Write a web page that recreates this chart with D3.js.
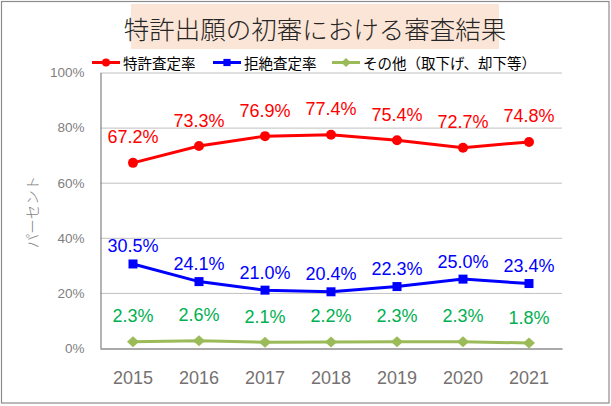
<!DOCTYPE html>
<html><head><meta charset="utf-8">
<script src="https://cdn.jsdelivr.net/npm/d3@7"></script>
<style>html,body{margin:0;padding:0;background:#fff;}svg{display:block;}</style>
</head><body>
<svg id="c" width="611" height="406"></svg>
<script>
const years = ["2015","2016","2017","2018","2019","2020","2021"];
const grantRate = [67.2, 73.3, 76.9, 77.4, 75.4, 72.7, 74.8];
const refusalRate = [30.5, 24.1, 21.0, 20.4, 22.3, 25.0, 23.4];
const otherRate = [2.3, 2.6, 2.1, 2.2, 2.3, 2.3, 1.8];
const yTicks = [0, 20, 40, 60, 80, 100];
const titleText = "特許出願の初審における審査結果";
const yLabel = "パーセント";
const seriesNames = ["特許査定率", "拒絶査定率", "その他（取下げ、却下等）"];

const svg = d3.select("#c");
const JP = "'Noto Sans CJK JP','Noto Sans',sans-serif";
const LAT = "'Liberation Sans',Arial,sans-serif";

// outer border
svg.append("rect").attr("x",1.5).attr("y",1.5).attr("width",607.5).attr("height",401.5)
  .attr("fill","#fff").attr("stroke","#8c8c8c").attr("stroke-width",1.2);

// title
svg.append("rect").attr("x",131).attr("y",4).attr("width",368).attr("height",45).attr("fill","#FBE5D6");
svg.append("text").attr("x",315).attr("y",27).attr("text-anchor","middle").attr("dominant-baseline","central")
  .attr("font-family",JP).attr("font-size",25.5).attr("font-weight",300).attr("fill","#262626").text(titleText);

const x = d3.scaleBand().domain(years).range([100,562]);
const cx = d => x(d) + x.bandwidth()/2;
const y = d3.scaleLinear().domain([0,100]).range([348,72.5]);

// gridlines
svg.append("g").selectAll("line").data(yTicks.filter(t=>t>0)).join("line")
  .attr("x1",100).attr("x2",562).attr("y1",d=>y(d)+0.5).attr("y2",d=>y(d)+0.5)
  .attr("stroke","#c0c0c0").attr("stroke-width",1);

// y axis
const yAxis = d3.axisLeft(y).tickValues(yTicks).tickFormat(d=>d+"%").tickSize(0).tickPadding(16);
const gy = svg.append("g").attr("transform","translate(100.5,0)").call(yAxis);
gy.select(".domain").attr("stroke","#8c8c8c").attr("stroke-width",1.3);
gy.selectAll("text").attr("font-family",LAT).attr("font-size",13.5).attr("fill","#7f7f7f");

// x axis
const xAxis = d3.axisBottom(x).tickSize(0).tickPadding(23);
const gx = svg.append("g").attr("transform","translate(0,348.5)").call(xAxis);
gx.select(".domain").attr("stroke","#8c8c8c").attr("stroke-width",1.3);
gx.selectAll("text").attr("font-family",LAT).attr("font-size",18).attr("fill","#767171");

// y label
svg.append("text").attr("transform","translate(31,212) rotate(-90)").attr("text-anchor","middle")
  .attr("dominant-baseline","central").attr("font-family",JP).attr("font-size",14.5).attr("font-weight",300).attr("fill","#7f7f7f").text(yLabel);

const series = [
  {name:seriesNames[0], vals:grantRate, color:"#ff0000", label:"#ff0000", marker:"circle", off:19.5},
  {name:seriesNames[1], vals:refusalRate, color:"#0000ff", label:"#0000ff", marker:"square", off:11.5},
  {name:seriesNames[2], vals:otherRate, color:"#9bbb59", label:"#00b050", marker:"diamond", off:19.5}
];

function marker(g, type, color, s) {
  if (type==="circle") g.append("circle").attr("r",5*s).attr("fill",color);
  else if (type==="square") g.append("rect").attr("x",-4.5*s).attr("y",-4.5*s).attr("width",9*s).attr("height",9*s).attr("fill",color);
  else g.append("path").attr("d",`M0,${-5.5*s}L${6*s},0L0,${5.5*s}L${-6*s},0Z`).attr("fill",color);
}

const line = d3.line().x(d=>cx(d.year)).y(d=>y(d.v));
series.forEach(s => {
  const pts = years.map((yr,i)=>({year:yr, v:s.vals[i]}));
  svg.append("path").datum(pts).attr("d",line).attr("fill","none").attr("stroke",s.color).attr("stroke-width",3);
  pts.forEach(p => {
    const g = svg.append("g").attr("transform",`translate(${cx(p.year)},${y(p.v)})`);
    marker(g, s.marker, s.color, 1);
  });
  svg.append("g").selectAll("text").data(pts).join("text")
    .attr("x",d=>cx(d.year)).attr("y",d=>y(d.v)-s.off).attr("text-anchor","middle")
    .attr("font-family",LAT).attr("font-size",18).attr("fill",s.label).text(d=>d.v.toFixed(1)+"%");
});

// legend
const legX = [92, 213, 332];
series.forEach((s,i) => {
  const g = svg.append("g").attr("transform",`translate(${legX[i]},62.5)`);
  g.append("line").attr("x1",0).attr("x2",28).attr("stroke",s.color).attr("stroke-width",3);
  const m = g.append("g").attr("transform","translate(14,0)");
  marker(m, s.marker, s.color, 0.8);
  g.append("text").attr("x",31).attr("y",0).attr("dominant-baseline","central")
    .attr("font-family",JP).attr("font-size",14.5).attr("fill","#000").text(s.name);
});
</script>
</body></html>
